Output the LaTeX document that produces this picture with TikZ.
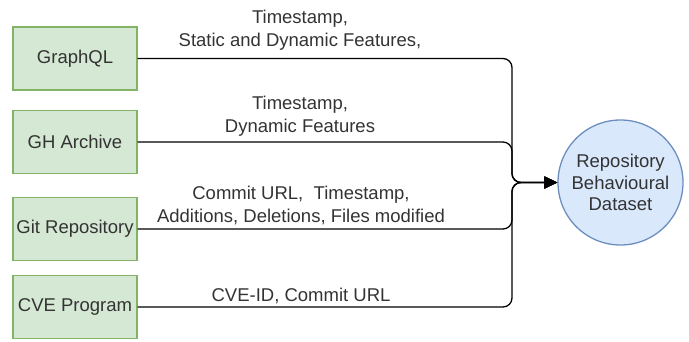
\documentclass[tikz,border=0pt]{standalone}
\usepackage{fontspec}
\setmainfont{Liberation Sans}
\usetikzlibrary{arrows.meta}
\definecolor{srcfill}{HTML}{D5E8D4}
\definecolor{srcline}{HTML}{82B366}
\definecolor{dsfill}{HTML}{DAE8FC}
\definecolor{dsline}{HTML}{6C8EBF}
\definecolor{txt}{HTML}{333333}

\begin{document}
\begin{tikzpicture}[x=1pt,y=-1pt]
\tikzstyle{every node}+=[inner sep=0pt, text=txt, font=\fontsize{18.5}{23}\selectfont]
\tikzstyle{source}=[draw=srcline, fill=srcfill, line width=1.3pt, minimum width=124pt, minimum height=63pt]
\tikzstyle{dataset}=[circle, draw=dsline, fill=dsfill, line width=1.3pt, minimum size=125pt, align=center, font=\fontsize{18.5}{21.5}\selectfont]
\tikzstyle{flow}=[black, line width=1.3pt, rounded corners=9pt, -{Triangle[length=13pt,width=12pt]}]
\tikzstyle{info}=[align=center, anchor=base]
\useasboundingbox (0,0) rectangle (689,341);
% sources
\node [source] (gql) at (75,58.5) {GraphQL};
\node [source] (gha) at (75,142) {GH Archive};
\node [source] (git) at (75,229) {Git Repository};
\node [source] (cve) at (75,307) {CVE Program};
% target
\node [dataset] (ds) at (620.5,182.5) {Repository\\Behavioural\\Dataset};
\coordinate (merge) at (512,182.5);
% connectors
\draw [flow] (gql.east) -| (merge) -- (ds.west);
\draw [flow] (gha.east) -| (merge) -- (ds.west);
\draw [flow] (git.east) -| (merge) -- (ds.west);
\draw [flow] (cve.east) -| (merge) -- (ds.west);
% labels
\node [info] (gqlinfo) at (300,46) {Timestamp,\\Static and Dynamic Features,};
\node [info] (ghainfo) at (300,132) {Timestamp,\\Dynamic Features};
\node [info] (gitinfo) at (301,222) {Commit URL,\ \ Timestamp,\\Additions, Deletions, Files modified};
\node [info] (cveinfo) at (301,301) {CVE-ID, Commit URL};
\end{tikzpicture}
\end{document}
